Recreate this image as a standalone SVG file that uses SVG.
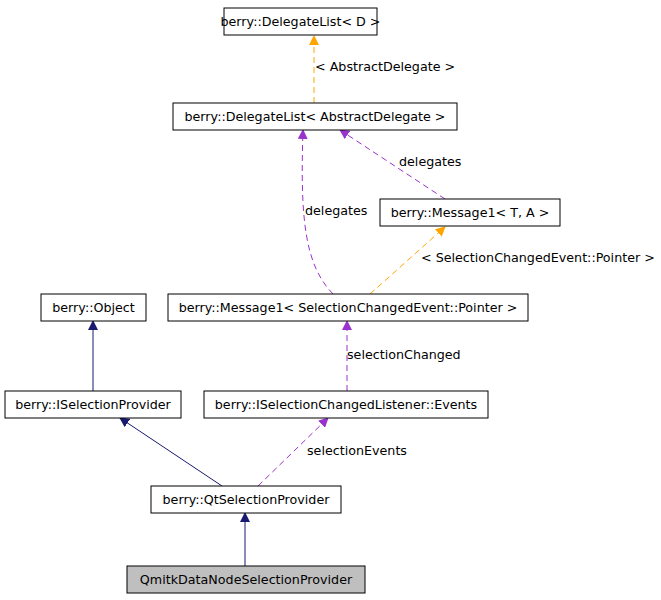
<svg xmlns="http://www.w3.org/2000/svg" width="661" height="600" viewBox="0 0 661 600">
<defs>
<style>
.n rect{fill:#fff;stroke:#000;stroke-width:1}
.n text,.l{font-family:"DejaVu Sans",sans-serif;font-size:12.7px;fill:#000;text-anchor:middle}
.l{text-anchor:start}
.o{stroke:orange;fill:none;stroke-dasharray:6,4}
.p{stroke:#9a32cd;fill:none;stroke-dasharray:6,4}
.b{stroke:#191970;fill:none}
</style>
<marker id="mo" markerWidth="10" markerHeight="10" refX="9" refY="5" orient="auto" markerUnits="userSpaceOnUse"><path d="M0,0L10,5L0,10z" fill="orange"/></marker>
<marker id="mp" markerWidth="10" markerHeight="10" refX="9" refY="5" orient="auto" markerUnits="userSpaceOnUse"><path d="M0,0L10,5L0,10z" fill="#9a32cd"/></marker>
<marker id="mb" markerWidth="10" markerHeight="10" refX="9" refY="5" orient="auto" markerUnits="userSpaceOnUse"><path d="M0,0L10,5L0,10z" fill="#191970"/></marker>
</defs>
<rect width="661" height="600" fill="#fff"/>
<g id="edges">
<path class="o" d="M314,103L314,36" marker-end="url(#mo)"/>
<text class="l" x="315" y="71">&lt; AbstractDelegate &gt;</text>
<path class="p" d="M445,199L340,130" marker-end="url(#mp)"/>
<text class="l" x="399" y="166">delegates</text>
<path class="p" d="M333,294C305,265 300,220 303,130" marker-end="url(#mp)"/>
<text class="l" x="305" y="215">delegates</text>
<path class="o" d="M370,294L445,227" marker-end="url(#mo)"/>
<text class="l" x="421" y="262">&lt; SelectionChangedEvent::Pointer &gt;</text>
<path class="p" d="M347,391L347,321" marker-end="url(#mp)"/>
<text class="l" x="347" y="359">selectionChanged</text>
<path class="b" d="M93,391L93,321" marker-end="url(#mb)"/>
<path class="b" d="M222,486L120,418" marker-end="url(#mb)"/>
<path class="p" d="M258,486L328,418" marker-end="url(#mp)"/>
<text class="l" x="307" y="455">selectionEvents</text>
<path class="b" d="M245,566L245,513" marker-end="url(#mb)"/>
</g>
<g id="n1" class="n"><rect x="224" y="8" width="153" height="27"/><text x="300.5" y="26">berry::DelegateList&lt; D &gt;</text></g>
<g id="n2" class="n"><rect x="173" y="103" width="284" height="27"/><text x="315" y="121">berry::DelegateList&lt; AbstractDelegate &gt;</text></g>
<g id="n3" class="n"><rect x="380" y="199" width="180" height="27"/><text x="470" y="217">berry::Message1&lt; T, A &gt;</text></g>
<g id="n4" class="n"><rect x="168" y="294" width="360" height="27"/><text x="348" y="312">berry::Message1&lt; SelectionChangedEvent::Pointer &gt;</text></g>
<g id="n5" class="n"><rect x="41" y="294" width="105" height="27"/><text x="93.5" y="312">berry::Object</text></g>
<g id="n6" class="n"><rect x="5" y="391" width="176" height="27"/><text x="93" y="409">berry::ISelectionProvider</text></g>
<g id="n7" class="n"><rect x="204" y="391" width="284" height="27"/><text x="346" y="409">berry::ISelectionChangedListener::Events</text></g>
<g id="n8" class="n"><rect x="151" y="486" width="190" height="27"/><text x="246" y="504">berry::QtSelectionProvider</text></g>
<g id="n9" class="n"><rect x="127" y="566" width="238" height="27" style="fill:#bfbfbf"/><text x="246" y="584">QmitkDataNodeSelectionProvider</text></g>
</svg>
